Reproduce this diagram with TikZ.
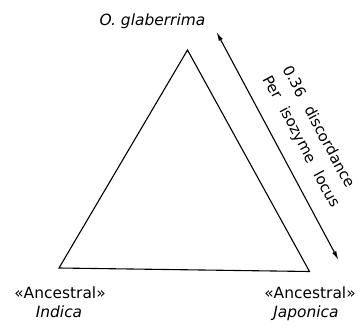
\documentclass[tikz,border=0pt]{standalone}
\usepackage{fontspec}
\setmainfont{DejaVu Sans}
\usetikzlibrary{arrows.meta}
\begin{document}
\begin{tikzpicture}[x=1bp,y=-1bp,
  lbl/.style={font=\fontsize{15.5}{18}\selectfont, inner sep=0pt, anchor=base},
  edge/.style={line width=1.1bp, line join=miter},
  dim/.style={line width=1.1bp, {Latex[length=9bp,width=4.5bp]}-{Latex[length=9bp,width=4.5bp]}},
  rot/.style={font=\fontsize{15}{18}\selectfont, inner sep=0pt, rotate=-62}]
\useasboundingbox (0,0) rectangle (358,330);
\coordinate (apex) at (187.5,50);
\coordinate (bl) at (59,268);
\coordinate (br) at (309.5,271.5);
\draw[edge] (apex) -- (bl) -- (br) -- cycle;
\coordinate (atop) at (216.5,32);
\coordinate (abot) at (338.5,260);
\draw[dim] (atop) -- (abot);
\node[lbl] (gla) at (152.5,25) {\itshape O. glaberrima};
\node[lbl] (anc1) at (60,298) {«Ancestral»};
\node[lbl] (ind) at (59,317.5) {\itshape Indica};
\node[lbl] (anc2) at (310,298) {«Ancestral»};
\node[lbl] (jap) at (306,317.5) {\itshape Japonica};
\node[rot] (l1) at (319.5,126.5) {0.36\hspace{0.8em}discordance};
\node[rot] (l2) at (301,142) {Per\hspace{0.75em}isozyme\hspace{0.75em}locus};
\end{tikzpicture}
\end{document}
